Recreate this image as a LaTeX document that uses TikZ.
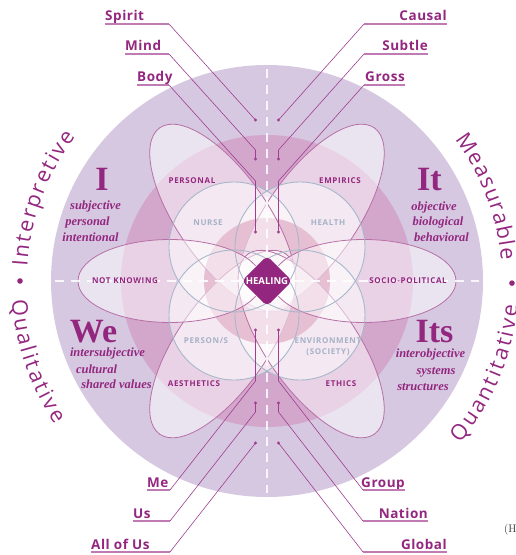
\documentclass[tikz,border=0pt]{standalone}
\usepackage{fontspec}
\newfontfamily\arcfont{Open Sans}
\newfontfamily\tagfont[LetterSpace=4]{Open Sans}
\newfontfamily\capfont[LetterSpace=8]{Open Sans}
\newfontfamily\quadfont{Liberation Serif}
\usetikzlibrary{positioning,shapes.geometric,decorations.text}
\definecolor{tpurple}{RGB}{147,39,127}
\definecolor{lpurple}{RGB}{160,62,145}
\definecolor{upurple}{RGB}{192,122,180}
\definecolor{lavender}{RGB}{214,200,225}
\definecolor{rose}{RGB}{211,166,204}
\definecolor{blush}{RGB}{206,128,168}
\definecolor{petalline}{RGB}{182,112,166}
\definecolor{steel}{RGB}{168,184,202}
\definecolor{steeltext}{RGB}{166,178,198}
\tikzset{
  petal/.style={draw=petalline, line width=0.8pt, fill=white, fill opacity=0.5},
  quad/.style={draw=steel, line width=0.9pt},
  axis/.style={draw=white, line width=1.2pt, dash pattern=on 9pt off 7pt, opacity=0.85},
  tag/.style={font=\tagfont\bfseries\fontsize{13.5}{15}\selectfont, text=tpurple, inner sep=0pt},
  lead/.style={draw=lpurple, line width=0.6pt},
  uline/.style={draw=upurple, line width=1.4pt},
  petaltext/.style={font=\capfont\bfseries\fontsize{8}{9}\selectfont, text=tpurple},
  quadtext/.style={font=\capfont\bfseries\fontsize{8}{11}\selectfont, text=steeltext, align=center},
  bigq/.style={font=\quadfont\bfseries\fontsize{34}{34}\selectfont, text=tpurple, anchor=base},
  qsub/.style={font=\quadfont\bfseries\itshape\fontsize{12.5}{13}\selectfont, text=tpurple, anchor=base},
  arctext/.style={decorate, decoration={text along path, text align={fit to path},
    text color=tpurple, text={|\arcfont\fontsize{21.5}{22}\selectfont|#1}}},
}
\begin{document}
\begin{tikzpicture}[x=1pt, y=1pt]
  \useasboundingbox (-267,-274) rectangle (249,281);
  \fill[lavender] (0,0) circle (216pt);
  \fill[rose] (0,0) circle (146pt);
  \foreach \sx/\sy in {-33/34, 33/34, -33/-34, 33/-34}
    \fill[white, fill opacity=0.5] (\sx,\sy) circle (65pt);
  \fill[blush] (0,0) circle (63pt);
  \foreach \a in {55,125,235,305}
    \draw[petal, shift={(\a:77pt)}, rotate=\a] (0,0) ellipse [x radius=110pt, y radius=45pt];
  \foreach \a in {0,180}
    \draw[petal, shift={(\a:97pt)}] (0,0) ellipse [x radius=92pt, y radius=41.5pt];
  \foreach \sx/\sy in {-33/34, 33/34, -33/-34, 33/-34}
    \draw[quad] (\sx,\sy) circle (65pt);
  \draw[axis] (0,212) -- (0,-212);
  \draw[axis] (-212,0) -- (212,0);

  \begin{scope}[every node/.style={petaltext}]
    \node (personal) at (-75,100) {PERSONAL};
    \node (empirics) at (73,100) {EMPIRICS};
    \node (notknowing) at (-142,0) {NOT KNOWING};
    \node (sociopol) at (141,0) {SOCIO-POLITICAL};
    \node (aesthetics) at (-73,-103) {AESTHETICS};
    \node (ethics) at (74,-103) {ETHICS};
  \end{scope}
  \begin{scope}[every node/.style={quadtext}]
    \node (nurse) at (-59,58) {NURSE};
    \node (health) at (61,58) {HEALTH};
    \node (persons) at (-61,-60) {PERSON/S};
    \node (environment) at (61,-65.5) {ENVIRONMENT\\(SOCIETY)};
  \end{scope}

  \node[bigq] (I) at (-165,91) {I};
  \node[qsub] (Ia) at (-171.5,72) {subjective};
  \node[qsub] (Ib) at (-179.5,56) {personal};
  \node[qsub] (Ic) at (-176.5,40) {intentional};
  \node[bigq] (We) at (-173.5,-61) {We};
  \node[qsub] (Wea) at (-159.5,-75) {intersubjective};
  \node[qsub] (Web) at (-170.5,-92) {cultural};
  \node[qsub] (Wec) at (-150.5,-107) {shared values};
  \node[bigq] (It) at (162.5,91) {It};
  \node[qsub] (Ita) at (167,71) {objective};
  \node[qsub] (Itb) at (171,56) {biological};
  \node[qsub] (Itc) at (174.5,40) {behavioral};
  \node[bigq] (Its) at (167.5,-61) {Its};
  \node[qsub] (Itsa) at (163.5,-76) {interobjective};
  \node[qsub] (Itsb) at (169,-93) {systems};
  \node[qsub] (Itsc) at (156,-109) {structures};

  \path[arctext=Interpretive] (176.5:240pt) arc [start angle=176.5, end angle=143, radius=240pt];
  \path[arctext=Qualitative] (184.3:256pt) arc [start angle=184.3, end angle=214, radius=256pt];
  \path[arctext=Measurable] (37:235pt) arc [start angle=37, end angle=5, radius=235pt];
  \path[arctext=Quantitative] (-40:252pt) arc [start angle=-40, end angle=-5.5, radius=252pt];
  \fill[tpurple] (180:247pt) circle (2.8pt);
  \fill[tpurple] (-0.5:245pt) circle (2.8pt);

  \coordinate (kSpirit) at (-98,257);  \coordinate (dSpirit) at (-11.5,161);
  \coordinate (kMind) at (-98,227);    \coordinate (bMind) at (-11.5,131);  \coordinate (dMind) at (-11.5,122);
  \coordinate (kBody) at (-98,196);    \coordinate (bBody) at (-11.5,100);  \coordinate (dBody) at (-11.5,49);
  \coordinate (kCausal) at (97,257);   \coordinate (dCausal) at (11.5,161);
  \coordinate (kSubtle) at (97,227);   \coordinate (bSubtle) at (11.5,131); \coordinate (dSubtle) at (11.5,122);
  \coordinate (kGross) at (97,196);    \coordinate (bGross) at (11.5,100);  \coordinate (dGross) at (11.5,49);
  \coordinate (kMe) at (-97,-209);     \coordinate (bMe) at (-11.5,-100);   \coordinate (dMe) at (-11.5,-49);
  \coordinate (kUs) at (-97,-240);     \coordinate (bUs) at (-11.5,-131);   \coordinate (dUs) at (-11.5,-122);
  \coordinate (kAll) at (-97,-271);    \coordinate (dAll) at (-11.5,-162);
  \coordinate (kGroup) at (96,-209);   \coordinate (bGroup) at (11.5,-100); \coordinate (dGroup) at (11.5,-49);
  \coordinate (kNation) at (96,-240);  \coordinate (bNation) at (11.5,-131);\coordinate (dNation) at (11.5,-122);
  \coordinate (kGlobal) at (96,-271);  \coordinate (dGlobal) at (11.5,-162);

  \begin{scope}[every node/.style={tag}]
    \node[anchor=base west] (spirit) at (-162,260.5) {Spirit};
    \node[anchor=base west] (mind) at (-142,230.5) {Mind};
    \node[anchor=base west] (body) at (-130,199.5) {Body};
    \node[anchor=base east] (causal) at (180,260.5) {Causal};
    \node[anchor=base east] (subtle) at (161,230.5) {Subtle};
    \node[anchor=base east] (gross) at (138,199.5) {Gross};
    \node[anchor=base west] (me) at (-120,-206) {Me};
    \node[anchor=base west] (us) at (-134,-237) {Us};
    \node[anchor=base west] (allofus) at (-176,-268) {All of Us};
    \node[anchor=base east] (group) at (138,-206) {Group};
    \node[anchor=base east] (nation) at (161,-237) {Nation};
    \node[anchor=base east] (global) at (180,-268) {Global};
  \end{scope}

  \draw[uline] (spirit.west |- kSpirit) -- (kSpirit);
  \draw[uline] (mind.west |- kMind) -- (kMind);
  \draw[uline] (body.west |- kBody) -- (kBody);
  \draw[uline] (kCausal) -- (causal.east |- kCausal);
  \draw[uline] (kSubtle) -- (subtle.east |- kSubtle);
  \draw[uline] (kGross) -- (gross.east |- kGross);
  \draw[uline] (me.west |- kMe) -- (kMe);
  \draw[uline] (us.west |- kUs) -- (kUs);
  \draw[uline] (allofus.west |- kAll) -- (kAll);
  \draw[uline] (kGroup) -- (group.east |- kGroup);
  \draw[uline] (kNation) -- (nation.east |- kNation);
  \draw[uline] (kGlobal) -- (global.east |- kGlobal);

  \draw[lead] (kSpirit) -- (dSpirit);
  \draw[lead] (kMind) -- (bMind) -- (dMind);
  \draw[lead] (kBody) -- (bBody) -- (dBody);
  \draw[lead] (kCausal) -- (dCausal);
  \draw[lead] (kSubtle) -- (bSubtle) -- (dSubtle);
  \draw[lead] (kGross) -- (bGross) -- (dGross);
  \draw[lead] (kMe) -- (bMe) -- (dMe);
  \draw[lead] (kUs) -- (bUs) -- (dUs);
  \draw[lead] (kAll) -- (dAll);
  \draw[lead] (kGroup) -- (bGroup) -- (dGroup);
  \draw[lead] (kNation) -- (bNation) -- (dNation);
  \draw[lead] (kGlobal) -- (dGlobal);
  \foreach \d in {dSpirit,dMind,dBody,dCausal,dSubtle,dGross,dMe,dUs,dAll,dGroup,dNation,dGlobal}
    \fill[lpurple] (\d) circle (1.6pt);

  \node[diamond, fill=tpurple, draw=white, line width=0.6pt, minimum width=52pt,
    minimum height=52pt, inner sep=0pt, rounded corners=5pt] (heal) at (0,0) {};
  \node[font=\arcfont\bfseries\fontsize{9.5}{10}\selectfont, text=white] (healing) at (heal) {HEALING};

  \node[anchor=west, inner sep=0pt, font=\fontsize{11}{11}\selectfont, text=black!80] (caption) at (237,-249) {(H};
\end{tikzpicture}
\end{document}
